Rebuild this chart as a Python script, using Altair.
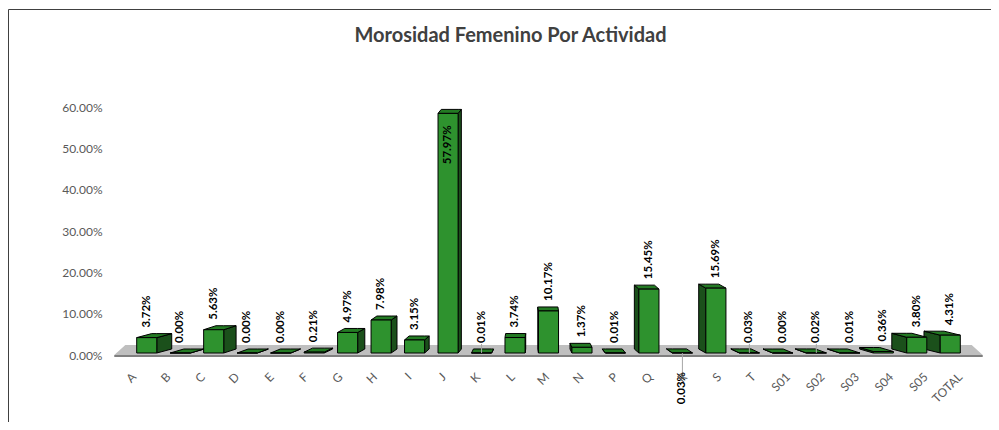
import altair as alt
import pandas as pd

# ---------------- data ----------------
cats = ["A", "B", "C", "D", "E", "F", "G", "H", "I", "J", "K", "L", "M", "N",
        "P", "Q", "R", "S", "T", "S01", "S02", "S03", "S04", "S05", "TOTAL"]
vals = [0.0372, 0.0000, 0.0563, 0.0000, 0.0000, 0.0021, 0.0497, 0.0798, 0.0315,
        0.5797, 0.0001, 0.0374, 0.1017, 0.0137, 0.0001, 0.1545, 0.0003, 0.1569,
        0.0003, 0.0000, 0.0002, 0.0001, 0.0036, 0.0380, 0.0431]
y_ticks = [0.0, 0.1, 0.2, 0.3, 0.4, 0.5, 0.6]
title_text = "Morosidad Femenino Por Actividad"
leader_cats = ["K", "T", "S02"]

df = pd.DataFrame({"cat": cats, "v": vals, "i": list(range(len(cats)))})
one = pd.DataFrame({"a": [0]})

# ---------------- styling constants ----------------
PLOT_W, PLOT_H = 837, 248
PAD_TOP = 99
YMAX = 0.6
PX = YMAX / PLOT_H          # one pixel in y units
HALF = 0.3                  # half bar width in x units
DEPTH = 4 * PX              # 3-D depth (vertical)
BASE = 2 * PX               # bars sit slightly above the baseline
K = 0.0388                  # perspective factor
MID = 11.5
N = len(cats)

FRONT = "#2E922E"
SIDE = "#1B501B"
TOP = "#237A23"
FONT = "Lato"

xscale = alt.Scale(domain=[-0.5, N - 0.5], nice=False, zero=False)
yscale = alt.Scale(domain=[0, YMAX], nice=False, zero=False)
yaxis = alt.Axis(values=y_ticks, format=".2%", title=None, labelPadding=28)


def X(f):
    return alt.X(f, type="quantitative", scale=xscale, axis=None, stack=None)


def Y(f):
    return alt.Y(f, type="quantitative", scale=yscale, axis=yaxis, stack=None)


base = alt.Chart(df)
sh_expr = f"{K}*({MID}-datum.i)"

# floor (trapezoid)
FT = 10 * PX
floor = alt.Chart(one).transform_calculate(pos="[0,1,2,3]").transform_flatten(["pos"]).transform_calculate(
    fx=f"[-0.97, -0.64, {N - 0.36}, {N - 0.03}][datum.pos]",
    fy=f"[0, {FT}, {FT}, 0][datum.pos]",
    fy2="0",
).mark_area(color="#BFBFBF").encode(x=X("fx"), y=Y("fy"), y2="fy2")

floor_line = alt.Chart(one).transform_calculate(
    lx="-0.97", lx2=f"{N - 0.03}", ly="0"
).mark_rule(color="#7F7F7F", strokeWidth=2, yOffset=1).encode(
    x=X("lx"), x2="lx2", y=Y("ly")
)

# side faces
side = base.transform_calculate(pos="[0,1]").transform_flatten(["pos"]).transform_calculate(
    sh=sh_expr,
).transform_calculate(
    sx=f"datum.i + (datum.sh > 0 ? {HALF} : -{HALF}) + datum.pos*datum.sh",
    sy=f"datum.v + {BASE} + datum.pos*{DEPTH}",
    sy2=f"{BASE} + datum.pos*{DEPTH}",
).mark_area(color=SIDE, stroke="black", strokeWidth=1).encode(
    x=X("sx"), y=Y("sy"), y2="sy2", detail="cat:N"
)

# top faces (parallelogram as a 4-point area)
top = base.transform_calculate(pos="[0,1,2,3]").transform_flatten(["pos"]).transform_calculate(
    sh=sh_expr,
    ta=f"datum.i - {HALF}",
    tb=f"datum.i + {HALF}",
    vb=f"datum.v + {BASE}",
    vd=f"datum.v + {BASE} + {DEPTH}",
).transform_calculate(
    tx="datum.sh >= 0 ? [datum.ta, datum.ta + datum.sh, datum.tb, datum.tb + datum.sh][datum.pos]"
       " : [datum.ta + datum.sh, datum.ta, datum.tb + datum.sh, datum.tb][datum.pos]",
    tup="datum.sh >= 0 ? [datum.vb, datum.vd, datum.vd, datum.vd][datum.pos]"
        " : [datum.vd, datum.vd, datum.vd, datum.vb][datum.pos]",
    tlo="datum.sh >= 0 ? [datum.vb, datum.vb, datum.vb, datum.vd][datum.pos]"
        " : [datum.vd, datum.vb, datum.vb, datum.vb][datum.pos]",
).mark_area(color=TOP, stroke="black", strokeWidth=1).encode(
    x=X("tx"), y=Y("tup"), y2="tlo", detail="cat:N"
)

# front faces
front = base.transform_calculate(
    fx=f"datum.i - {HALF}",
    fx2=f"datum.i + {HALF}",
    fy=f"datum.v + {BASE}",
    fy2=f"{BASE}",
).mark_rect(color=FRONT, stroke="black", strokeWidth=1).encode(
    x=X("fx"), x2="fx2", y=Y("fy"), y2="fy2"
)

# leader lines
leaders = base.transform_filter(
    alt.FieldOneOfPredicate(field="cat", oneOf=leader_cats)
).transform_calculate(
    ly=f"datum.v + {2 * PX}", ly2=f"datum.v + {11 * PX}"
).mark_rule(color="#A6A6A6", strokeWidth=1).encode(x=X("i"), y=Y("ly"), y2="ly2")

leader_r = base.transform_filter("datum.cat == 'R'").transform_calculate(
    ly=f"{BASE}", ly2=f"{-22 * PX}"
).mark_rule(color="#A6A6A6", strokeWidth=1).encode(x=X("i"), y=Y("ly"), y2="ly2")

lab_style = dict(angle=270, baseline="middle", font=FONT, fontSize=11.5,
                 fontWeight="bold", color="black")

labels = base.transform_filter("datum.cat != 'J' && datum.cat != 'R'").mark_text(
    align="left", yOffset=-12, **lab_style
).encode(x=X("i"), y=Y("v"), text=alt.Text("v:Q", format=".2%"))

label_j = base.transform_filter("datum.cat == 'J'").mark_text(
    align="right", yOffset=10, **lab_style
).encode(x=X("i"), y=Y("v"), text=alt.Text("v:Q", format=".2%"))

label_r = base.transform_filter("datum.cat == 'R'").transform_calculate(zero="0").mark_text(
    align="right", yOffset=17, **lab_style
).encode(x=X("i"), y=Y("zero"), text=alt.Text("v:Q", format=".2%"))

# category labels
catlab = base.transform_calculate(
    lx="datum.i + 0.028*(datum.i - 13.33)", zero="0"
).mark_text(
    angle=315, align="right", baseline="middle", yOffset=20,
    font=FONT, fontSize=12, color="#595959"
).encode(x=X("lx"), y=Y("zero"), text="cat:N")

# frame lines (cropped chart border)
FY = 9.5 - (8 + PAD_TOP)
frame_v = alt.Chart(one).mark_rule(color="#404040", strokeWidth=1).encode(
    x=alt.value(-121.5), x2=alt.value(-121.5), y=alt.value(FY), y2=alt.value(330)
)
frame_h = alt.Chart(one).mark_rule(color="#404040", strokeWidth=1).encode(
    x=alt.value(-121.5), x2=alt.value(870), y=alt.value(FY), y2=alt.value(FY)
)

chart = alt.layer(
    frame_v, frame_h, floor, floor_line, side, top, front,
    leaders, leader_r, labels, label_j, label_r, catlab
).properties(
    width=PLOT_W,
    height=PLOT_H,
    autosize=alt.AutoSizeParams(type="none"),
    padding={"left": 122, "top": PAD_TOP, "right": 24, "bottom": 414 - PAD_TOP - PLOT_H},
    background="white",
    title=alt.Title(
        title_text, font=FONT, fontSize=20, fontWeight="bold", color="#404040",
        anchor="middle", frame="group", dx=-38, offset=-53, baseline="alphabetic"
    ),
).configure_view(stroke=None).configure_axis(
    domain=False, ticks=False, tickSize=0, grid=False,
    labelFont=FONT, labelFontSize=12, labelColor="#595959"
)

chart.save("out.html", embed_options={"renderer": "svg", "actions": False})
